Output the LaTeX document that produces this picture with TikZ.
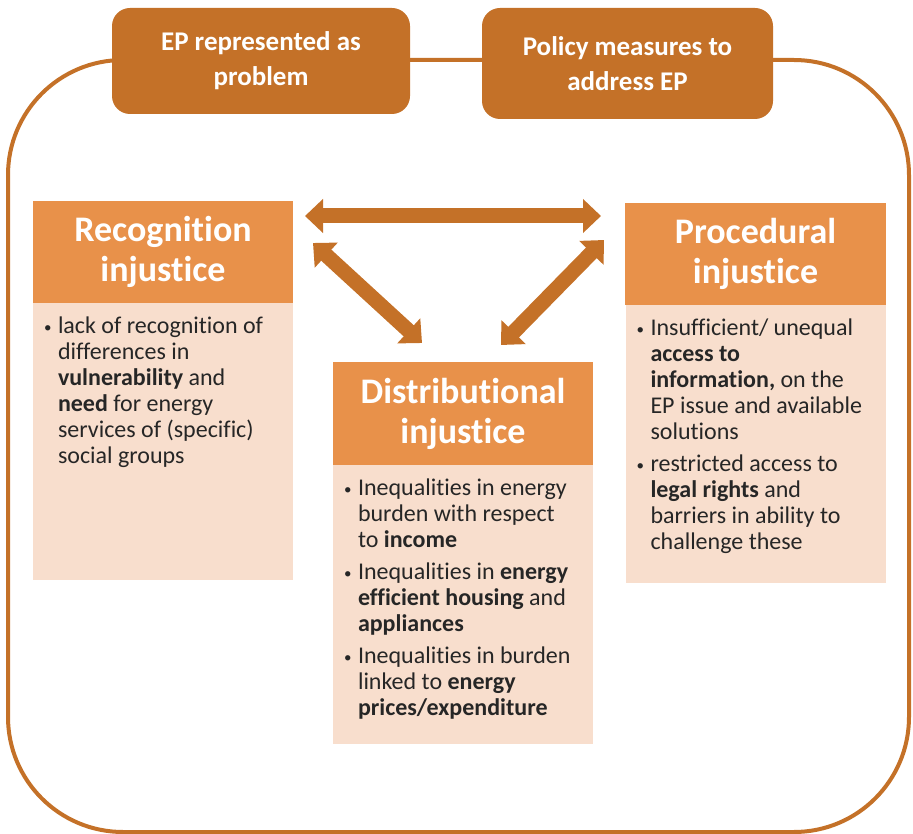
\documentclass[tikz,border=0pt]{standalone}
\usepackage{fontspec}
\setmainfont{Carlito}[Ligatures={CommonOff,RareOff}]
\usetikzlibrary{arrows.meta,positioning}

\definecolor{epdark}{RGB}{196,113,40}
\definecolor{ephead}{RGB}{232,145,74}
\definecolor{epbody}{RGB}{248,222,205}
\definecolor{eptext}{RGB}{38,38,38}

% one bullet point, later lines hang under the text
\newcommand{\epitem}[1]{\par\hangindent=14pt\hangafter=1\noindent
  \makebox[14pt][l]{\raisebox{1pt}{\fontsize{15}{15}\selectfont\textbullet}}#1\par}
% body of a column, fixed height, text from the top
\newcommand{\epbody}[2]{\parbox[c][#1][t]{260pt}{\fontsize{24}{26}\selectfont
  \leftskip=11pt\rightskip=0pt plus 1fil\parskip=6pt\vspace*{7pt}#2}}

\begin{document}
\begin{tikzpicture}[x=1pt,y=-1pt,
    topbox/.style={fill=epdark, rounded corners=18pt, text=white, align=center,
      inner sep=0pt, font=\bfseries\fontsize{27}{35}\selectfont},
    headbox/.style={fill=ephead, text=white, align=center, inner sep=0pt,
      minimum width=260pt, minimum height=102pt,
      font=\bfseries\fontsize{36}{40}\selectfont},
    bodybox/.style={fill=epbody, text=eptext, inner sep=0pt},
    twoway/.style={draw=epdark, line width=15pt,
      {Triangle[length=18pt,width=33pt]}-{Triangle[length=18pt,width=33pt]}}]
  \useasboundingbox (0,0) rectangle (913,834);

  % outer frame
  \draw[epdark, line width=4pt, rounded corners=115pt] (8,60) rectangle (909,832);

  % boxes on the top edge
  \node[topbox, minimum width=298pt, minimum height=106pt] (problem) at (261,61)
    {EP represented as\\problem};
  \node[topbox, minimum width=291pt, minimum height=111pt] (policy) at (627.5,63.5)
    {Policy measures to\\address EP};

  % recognition
  \node[headbox] (rechead) at (163,252) {Recognition\\injustice};
  \node[bodybox, below=0pt of rechead] (recbody) {\epbody{277pt}{%
    \epitem{lack of recognition of\\differences in\\\textbf{vulnerability} and\\
      \textbf{need} for energy\\services of (specific)\\social groups}}};

  % procedural
  \node[headbox, minimum width=261pt] (prohead) at (755.5,254) {Procedural\\injustice};
  \node[bodybox, below=0pt of prohead] (probody) {\epbody{278pt}{%
    \epitem{Insufficient/ unequal\\\textbf{access to}\\\textbf{information,} on the\\
      EP issue and available\\solutions}%
    \epitem{restricted access to\\\textbf{legal rights} and\\barriers in ability to\\
      challenge these}}};

  % distributional
  \node[headbox, minimum height=103pt] (dishead) at (463,413.5) {Distributional\\injustice};
  \node[bodybox, below=0pt of dishead] (disbody) {\epbody{279pt}{%
    \epitem{Inequalities in energy\\burden with respect\\to \textbf{income}}%
    \epitem{Inequalities in \textbf{energy}\\\textbf{efficient housing} and\\
      \textbf{appliances}}%
    \epitem{Inequalities in burden\\linked to \textbf{energy}\\
      \textbf{prices/expenditure}}}};

  % arrows between the three
  \coordinate (rp-a) at (305,216);
  \coordinate (rp-b) at (601,216);
  \coordinate (rd-a) at (313,243);
  \coordinate (rd-b) at (422,343);
  \coordinate (pd-a) at (604,240);
  \coordinate (pd-b) at (501,345);
  \draw[twoway] (rp-a) -- (rp-b);
  \draw[twoway] (rd-a) -- (rd-b);
  \draw[twoway] (pd-a) -- (pd-b);
\end{tikzpicture}
\end{document}
